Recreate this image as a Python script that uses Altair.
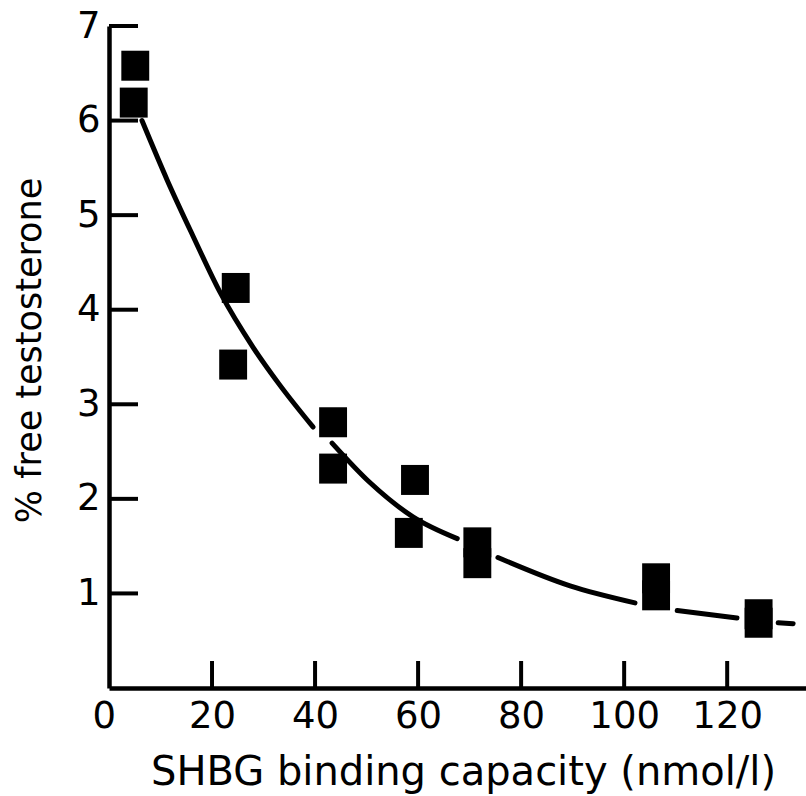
import altair as alt
import pandas as pd

# Measured points (SHBG binding capacity, % free testosterone)
pt_x = [5.1, 4.8, 24.6, 24.1, 43.5, 43.5, 59.4, 58.2, 71.5, 71.5, 106.2, 106.2, 126.1, 126.1]
pt_y = [6.58, 6.19, 4.23, 3.42, 2.81, 2.32, 2.20, 1.64, 1.54, 1.32, 1.16, 0.98, 0.78, 0.69]

# Hand-drawn fitted curve (broken where it passes the symbols)
curve_x = [6.4, 11.3, 16.3, 21.6, 28.0, 33.2, 39.6, 43.3, 50.7, 59.0, 67.6, 75.5, 89.5, 102.1, 110.3, 121.9, 129.9, 132.8]
curve_y = [6.00, 5.37, 4.78, 4.18, 3.60, 3.20, 2.76, 2.59, 2.17, 1.81, 1.58, 1.38, 1.08, 0.90, 0.82, 0.74, 0.69, 0.68]
curve_seg = [1, 1, 1, 1, 1, 1, 1, 2, 2, 2, 2, 3, 3, 3, 4, 4, 5, 5]

x_ticks = [20, 40, 60, 80, 100, 120]
y_ticks = [1, 2, 3, 4, 5, 6, 7]
x_labels = [0, 20, 40, 60, 80, 100, 120]

W, H = 697, 662
FONT = "DejaVu Sans"

pts = pd.DataFrame({"x": pt_x, "y": pt_y})
crv = pd.DataFrame({"x": curve_x, "y": curve_y, "seg": curve_seg})
xt = pd.DataFrame({"x": x_ticks})
yt = pd.DataFrame({"y": y_ticks})

xscale = alt.Scale(domain=[0, 135.3], nice=False, zero=False)
yscale = alt.Scale(domain=[0, 7], nice=False, zero=False)

x_axis = alt.Axis(
    values=x_labels, format="d", title="SHBG binding capacity (nmol/l)", ticks=False, grid=False,
    domainWidth=4.5, domainColor="black", labelFont=FONT, labelFontSize=37,
    labelColor="black", labelPadding=10, labelBaseline="top",
    labelOffset={"condition": {"test": "datum.value == 0", "value": -17}, "value": 0},
    titleFont=FONT, titleFontSize=40, titleFontWeight="normal", titleColor="black",
    titleX=354, titleY=84, titleBaseline="middle", titleAlign="center",
)
y_axis = alt.Axis(
    values=y_ticks, format="d", title="% free testosterone", ticks=False, grid=False,
    domainWidth=4.5, domainColor="black", labelFont=FONT, labelFontSize=37,
    labelColor="black", labelPadding=9, labelBaseline="middle",
    titleFont=FONT, titleFontSize=35, titleFontWeight="normal", titleColor="black",
    titleX=-80, titleY=324, titleBaseline="middle", titleAlign="center", titleAngle=-90,
)

base_axes = alt.Chart(pts).mark_point(opacity=0).encode(
    x=alt.X("x:Q", scale=xscale, axis=x_axis),
    y=alt.Y("y:Q", scale=yscale, axis=y_axis),
)

curve = alt.Chart(crv).mark_line(
    color="black", strokeWidth=5, strokeCap="round", interpolate="monotone"
).encode(
    x=alt.X("x:Q", scale=xscale),
    y=alt.Y("y:Q", scale=yscale),
    detail="seg:N",
)

squares = alt.Chart(pts).mark_point(
    shape="M-0.93,-1L0.93,-1L0.93,1L-0.93,1Z", size=900, filled=True,
    color="black", opacity=1, strokeWidth=0,
).encode(
    x=alt.X("x:Q", scale=xscale),
    y=alt.Y("y:Q", scale=yscale),
)

yticks = alt.Chart(yt).mark_rule(color="black", strokeWidth=4).encode(
    y=alt.Y("y:Q", scale=yscale),
    x=alt.value(0),
    x2=alt.value(29),
)
xticks = alt.Chart(xt).mark_rule(color="black", strokeWidth=4).encode(
    x=alt.X("x:Q", scale=xscale),
    y=alt.value(H),
    y2=alt.value(H - 27),
)

chart = alt.layer(base_axes, curve, yticks, xticks, squares).properties(
    width=W, height=H,
    autosize=alt.AutoSizeParams(type="none"),
    padding={"left": 109, "top": 26, "right": 0, "bottom": 108},
    background="white",
).configure_view(stroke=None)

chart.save("out.html", embed_options={"renderer": "svg", "actions": False})
